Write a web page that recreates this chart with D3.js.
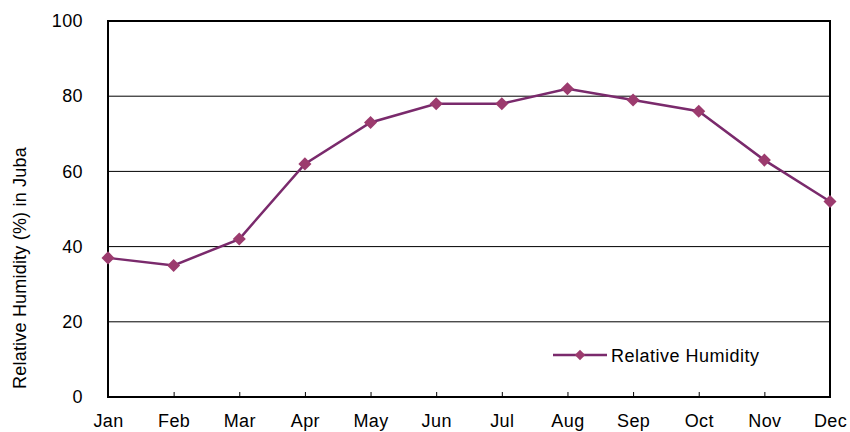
<!DOCTYPE html>
<html>
<head>
<meta charset="utf-8">
<script src="https://cdn.jsdelivr.net/npm/d3@7"></script>
<style>
  body { margin: 0; background: #fff; }
  text { font-family: "Liberation Sans", Arial, sans-serif; }
</style>
</head>
<body>
<div id="chart"></div>
<script>
const months = ["Jan", "Feb", "Mar", "Apr", "May", "Jun", "Jul", "Aug", "Sep", "Oct", "Nov", "Dec"];
const humidity = [37, 35, 42, 62, 73, 78, 78, 82, 79, 76, 63, 52];
const yTicks = [0, 20, 40, 60, 80, 100];

const width = 850, height = 432;
const margin = { top: 21, right: 20, bottom: 35, left: 108 };
const lineColor = "#7a2a6c";
const markerColor = "#9c3b6e";
const fontFamily = "Liberation Sans, Arial, sans-serif";

const svg = d3.select("#chart").append("svg")
    .attr("width", width)
    .attr("height", height);

const x = d3.scalePoint()
    .domain(months)
    .range([margin.left, width - margin.right]);

const y = d3.scaleLinear()
    .domain([0, 100])
    .range([height - margin.bottom, margin.top]);

// gridlines
svg.append("g")
    .selectAll("line")
    .data(yTicks.slice(1, -1))
    .join("line")
    .attr("x1", margin.left)
    .attr("x2", width - margin.right)
    .attr("y1", d => y(d))
    .attr("y2", d => y(d))
    .attr("stroke", "#000")
    .attr("stroke-width", 1);

// frame
svg.append("rect")
    .attr("x", margin.left)
    .attr("y", margin.top)
    .attr("width", width - margin.left - margin.right)
    .attr("height", height - margin.top - margin.bottom)
    .attr("fill", "none")
    .attr("stroke", "#000")
    .attr("stroke-width", 2);

// x axis: inner ticks + labels
const xAxis = svg.append("g")
    .attr("transform", `translate(0,${y(0)})`)
    .call(d3.axisBottom(x).tickSize(-5).tickPadding(17));
xAxis.select(".domain").remove();
xAxis.selectAll(".tick line").attr("stroke", "#000");
xAxis.selectAll(".tick text")
    .attr("font-size", 18)
    .attr("letter-spacing", 0.4)
    .attr("fill", "#000")
    .attr("font-family", fontFamily);

// y axis labels
const yAxis = svg.append("g")
    .attr("transform", `translate(${margin.left},0)`)
    .call(d3.axisLeft(y).tickValues(yTicks).tickSize(0).tickPadding(25));
yAxis.select(".domain").remove();
yAxis.selectAll(".tick text")
    .attr("font-size", 18)
    .attr("letter-spacing", 0.4)
    .attr("fill", "#000")
    .attr("font-family", fontFamily);

// y title
svg.append("text")
    .attr("transform", `translate(26,${(y(0) + y(100)) / 2 + 59}) rotate(-90)`)
    .attr("text-anchor", "middle")
    .attr("font-size", 18)
    .attr("letter-spacing", 0.2)
    .attr("fill", "#000")
    .text("Relative Humidity (%) in Juba");

// line
const line = d3.line()
    .x((d, i) => x(months[i]))
    .y(d => y(d));

svg.append("path")
    .datum(humidity)
    .attr("d", line)
    .attr("fill", "none")
    .attr("stroke", lineColor)
    .attr("stroke-width", 2.5);

svg.append("g")
    .selectAll("path")
    .data(humidity)
    .join("path")
    .attr("transform", (d, i) => `translate(${x(months[i])},${y(d)}) rotate(45)`)
    .attr("d", d3.symbol().type(d3.symbolSquare).size(85))
    .attr("fill", markerColor);

// legend
const legend = svg.append("g").attr("transform", "translate(553,355)");
legend.append("line")
    .attr("x1", 0).attr("x2", 54)
    .attr("stroke", lineColor).attr("stroke-width", 2.5);
legend.append("path")
    .attr("transform", "translate(27,0) rotate(45)")
    .attr("d", d3.symbol().type(d3.symbolSquare).size(55))
    .attr("fill", markerColor);
legend.append("text")
    .attr("x", 58)
    .attr("y", 6.5)
    .attr("font-size", 18)
    .attr("letter-spacing", 0.5)
    .attr("fill", "#000")
    .text("Relative Humidity");
</script>
</body>
</html>
